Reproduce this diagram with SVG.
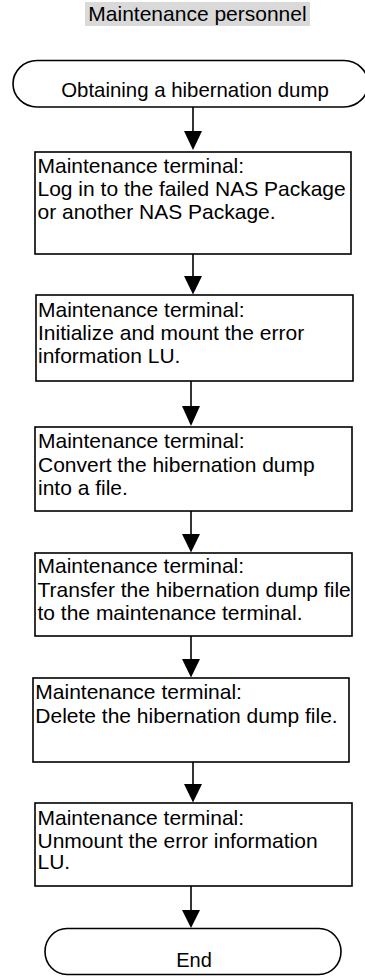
<svg xmlns="http://www.w3.org/2000/svg" width="365" height="976" viewBox="0 0 365 976">
<style>
  .t { font-family: "Liberation Sans", Arial, sans-serif; font-size: 21px; fill: #000; }
  .box { fill: #fff; stroke: #000; stroke-width: 1.6; }
  .term { fill: #fff; stroke: #000; stroke-width: 1.6; }
  .ln { stroke: #000; stroke-width: 1.6; fill: none; }
  .hd { fill: #000; stroke: none; }
</style>
<rect width="365" height="976" fill="#fff"/>
<g id="title">
  <rect x="85" y="2" width="225" height="24" fill="#d9d9d9"/>
  <text class="t" x="197.5" y="20.7" text-anchor="middle">Maintenance personnel</text>
</g>
<g id="connectors">
  <line class="ln" x1="193" y1="107" x2="193" y2="133"/>
  <polygon class="hd" points="184,131 202,131 193,150"/>
  <line class="ln" x1="193" y1="254" x2="193" y2="278"/>
  <polygon class="hd" points="184,276 202,276 193,294.5"/>
  <line class="ln" x1="191" y1="381" x2="191" y2="408"/>
  <polygon class="hd" points="182,406 200,406 191,426"/>
  <line class="ln" x1="191" y1="511" x2="191" y2="536"/>
  <polygon class="hd" points="182,534 200,534 191,552.5"/>
  <line class="ln" x1="191" y1="636" x2="191" y2="661"/>
  <polygon class="hd" points="182,659 200,659 191,677.5"/>
  <line class="ln" x1="193" y1="762" x2="193" y2="786"/>
  <polygon class="hd" points="184,784 202,784 193,802.5"/>
  <line class="ln" x1="191" y1="886" x2="191" y2="912"/>
  <polygon class="hd" points="182,910 200,910 191,928"/>
</g>
<g id="start">
  <path class="term" d="M37,60.5 H344 A24,23.25 0 0 1 344,107 H37 A24,23.25 0 0 1 37,60.5 Z"/>
  <text class="t" x="195" y="97" text-anchor="middle" style="font-size:20.4px">Obtaining a hibernation dump</text>
</g>
<g id="step1">
  <rect class="box" x="35" y="152" width="316" height="102"/>
  <text class="t" x="37.5" y="173.3">Maintenance terminal:</text>
  <text class="t" x="37.5" y="196.3">Log in to the failed NAS Package</text>
  <text class="t" x="37.5" y="218.5">or another NAS Package.</text>
</g>
<g id="step2">
  <rect class="box" x="36" y="295" width="317" height="86"/>
  <text class="t" x="38" y="316.7">Maintenance terminal:</text>
  <text class="t" x="38" y="340">Initialize and mount the error</text>
  <text class="t" x="38" y="363">information LU.</text>
</g>
<g id="step3">
  <rect class="box" x="35" y="427" width="317" height="84"/>
  <text class="t" x="38" y="448">Maintenance terminal:</text>
  <text class="t" x="38" y="471.7">Convert the hibernation dump</text>
  <text class="t" x="38" y="495">into a file.</text>
</g>
<g id="step4">
  <rect class="box" x="35" y="553" width="317" height="83"/>
  <text class="t" x="37.5" y="573.3">Maintenance terminal:</text>
  <text class="t" x="37.5" y="596.7">Transfer the hibernation dump file</text>
  <text class="t" x="37.5" y="620">to the maintenance terminal.</text>
</g>
<g id="step5">
  <rect class="box" x="33" y="678" width="316" height="84"/>
  <text class="t" x="35.3" y="699.3">Maintenance terminal:</text>
  <text class="t" x="35.3" y="723">Delete the hibernation dump file.</text>
</g>
<g id="step6">
  <rect class="box" x="35" y="803" width="317" height="83"/>
  <text class="t" x="37.5" y="825">Maintenance terminal:</text>
  <text class="t" x="37.5" y="847.5">Unmount the error information</text>
  <text class="t" x="37.5" y="869">LU.</text>
</g>
<g id="end">
  <path class="term" d="M67,928.5 H319 A22,23 0 0 1 319,974.5 H67 A22,23 0 0 1 67,928.5 Z"/>
  <text class="t" x="194" y="966.7" text-anchor="middle" style="font-size:20px">End</text>
</g>
</svg>
